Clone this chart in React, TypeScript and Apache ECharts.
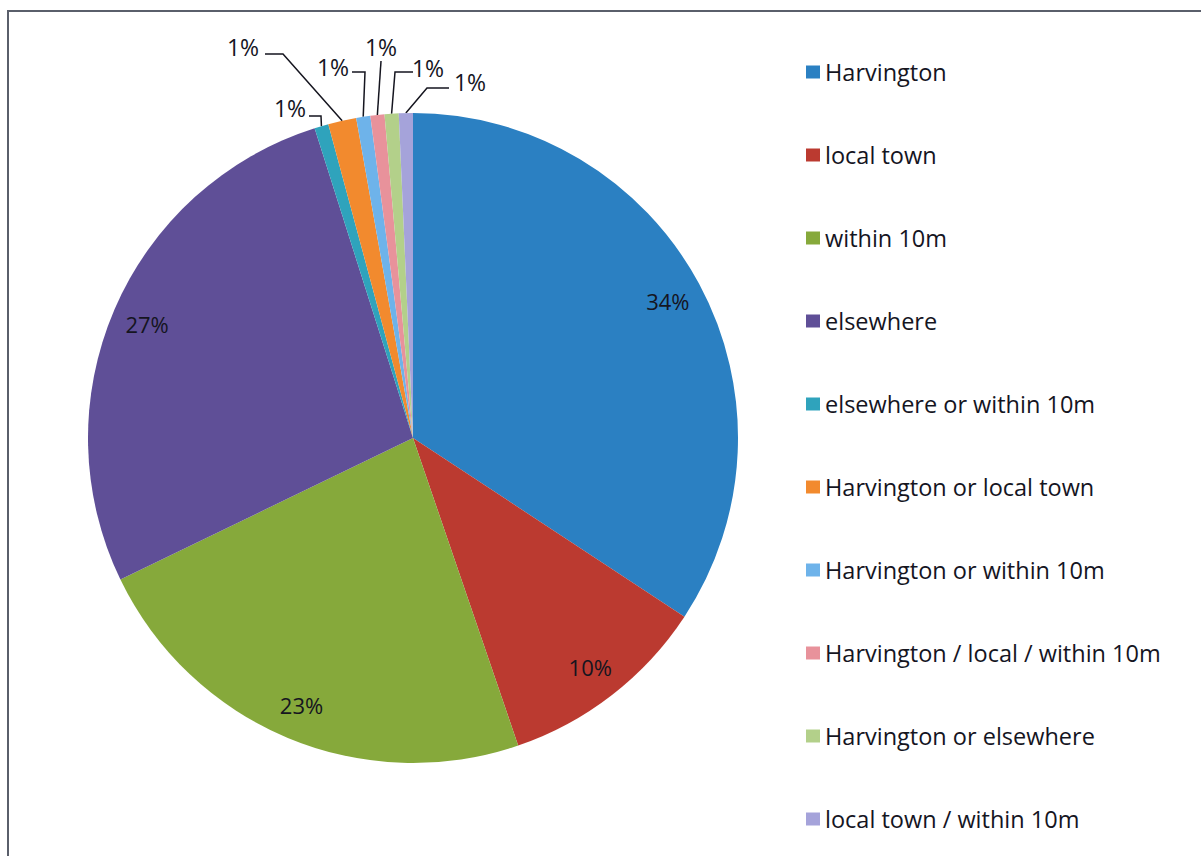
import React, { useEffect, useRef } from "react";
import * as echarts from "echarts";

const categories = [
  "Harvington",
  "local town",
  "within 10m",
  "elsewhere",
  "elsewhere or within 10m",
  "Harvington or local town",
  "Harvington or within 10m",
  "Harvington / local / within 10m",
  "Harvington or elsewhere",
  "local town / within 10m",
];
const counts = [49, 15, 33, 39, 1, 2, 1, 1, 1, 1];
const colors = [
  "#2B80C2",
  "#BB3A30",
  "#86A93B",
  "#5F4F97",
  "#2FA3BC",
  "#F28A2E",
  "#6EB3EA",
  "#E8929B",
  "#B3D08A",
  "#A5A3DA",
];

// label layout for the small slices: [labelX, labelY, elbowX, elbowY, lineEndX, lineEndY]
const smallLabelLayout: Record<number, number[]> = {
  4: [290, 108, 321, 116, 309, 116],
  5: [243, 47, 283, 54, 265, 54],
  6: [333, 67, 365, 72, 352, 72],
  7: [381, 47, 381, 61, 381, 61],
  8: [428, 68, 395, 72, 413, 72],
  9: [470, 82, 427, 88, 449, 88],
};

const FONT = "'Open Sans', 'Noto Sans', sans-serif";
const CX = 413;
const CY = 438;
const R = 325;

const pctFormatter = (p: any) => Math.round(p.percent) + "%";

export default function App() {
  const ref = useRef<HTMLDivElement>(null);
  useEffect(() => {
    const chart = echarts.init(ref.current!, undefined, { renderer: "svg" });
    const data = categories.map((name, i) => ({
      name,
      value: counts[i],
      itemStyle: { color: colors[i] },
      label: { show: i >= 4 },
      labelLine: { show: i >= 4 },
    }));
    const data2 = categories.map((name, i) => ({
      name,
      value: counts[i],
      label: { show: i < 4 },
    }));
    chart.setOption({
      animation: false,
      backgroundColor: "#ffffff",
      graphic: [
        {
          type: "rect",
          shape: { x: 8, y: 11, width: 1300, height: 1000 },
          style: { fill: "none", stroke: "#5a5f6b", lineWidth: 2 },
          silent: true,
        },
      ],
      legend: {
        orient: "vertical",
        left: 801,
        top: 55,
        itemWidth: 14,
        itemHeight: 13,
        itemGap: 59,
        icon: "rect",
        data: categories.map((name, i) => ({ name, itemStyle: { color: colors[i] } })),
        textStyle: {
          fontFamily: FONT,
          fontSize: 23.5,
          lineHeight: 24,
          color: "#15151f",
          padding: [0, 0, 0, 0],
        },
      },
      series: [
        {
          type: "pie",
          center: [CX, CY],
          radius: [0, R],
          startAngle: 90,
          clockwise: true,
          avoidLabelOverlap: false,
          itemStyle: { borderWidth: 0 },
          label: {
            position: "outside",
            formatter: pctFormatter,
            fontFamily: FONT,
            fontSize: 23,
            color: "#15151f",
          },
          labelLine: { length: 10, length2: 10, lineStyle: { color: "#15151f", width: 1.5 } },
          labelLayout: (params: any) => {
            const l = smallLabelLayout[params.dataIndex];
            if (!l) return {};
            const p0 = params.labelLinePoints ? params.labelLinePoints[0] : [l[2], l[3]];
            return {
              x: l[0],
              y: l[1],
              align: "center",
              verticalAlign: "middle",
              labelLinePoints: [p0, [l[2], l[3]], [l[4], l[5]]],
            };
          },
          data,
        },
        {
          type: "pie",
          center: [CX, CY],
          radius: [248, R],
          startAngle: 90,
          clockwise: true,
          silent: true,
          itemStyle: { color: "rgba(0,0,0,0)", borderWidth: 0 },
          label: {
            position: "inside",
            formatter: pctFormatter,
            fontFamily: FONT,
            fontSize: 22,
            color: "#15151f",
          },
          labelLine: { show: false },
          data: data2,
        },
      ],
    });
    return () => chart.dispose();
  }, []);
  return (
    <div
      ref={ref}
      style={{ position: "fixed", left: 0, top: 0, width: 1201, height: 856, background: "#fff" }}
    />
  );
}
